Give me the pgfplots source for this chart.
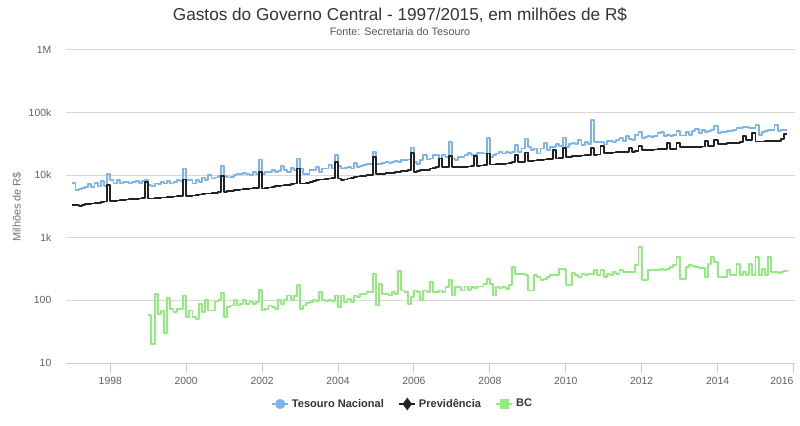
\documentclass[border=0pt]{standalone}
\usepackage{pgfplots}
\pgfplotsset{compat=1.18}
\usepackage{pgfplotstable}
\usepackage{fontspec}
\setmainfont{Liberation Sans}
\definecolor{tes}{HTML}{7CB5EC}
\definecolor{prev}{HTML}{222222}
\definecolor{bcc}{HTML}{90ED7D}
\definecolor{tickc}{HTML}{606060}
\definecolor{titlec}{HTML}{333333}
\definecolor{subc}{HTML}{555555}
\definecolor{ylabc}{HTML}{707070}
\definecolor{gridc}{HTML}{D8D8D8}
\definecolor{axisc}{HTML}{C0D0E0}

% Tesouro Nacional, monthly from Jan 1997 to Nov 2015
\pgfplotstableread[row sep=\\]{v\\
7500\\5800\\6100\\6300\\6500\\7200\\6500\\7600\\6600\\8000\\6800\\10400\\
8500\\7360\\8300\\7360\\7800\\7800\\7360\\7800\\8100\\7540\\8100\\8500\\
6920\\6670\\7360\\7180\\7800\\7360\\8100\\7360\\7800\\8500\\8100\\12800\\
8500\\8300\\7360\\8500\\7800\\9180\\8500\\10000\\8850\\9180\\9640\\13900\\
9640\\9180\\9400\\10000\\10600\\10400\\10900\\10600\\10000\\11300\\10600\\17800\\
10600\\11300\\11300\\12300\\11300\\11700\\13900\\12000\\11300\\13200\\12000\\18500\\
12800\\10600\\10600\\12000\\12000\\13600\\11300\\12800\\12800\\14500\\12800\\20900\\
13900\\12800\\13200\\13600\\12800\\15700\\13600\\13900\\14500\\15300\\14900\\23600\\
15300\\14900\\15700\\16300\\15700\\16300\\16900\\16300\\17400\\17400\\17800\\27700\\
16300\\15300\\17400\\20900\\17800\\18500\\20900\\20900\\18500\\20900\\19600\\34100\\
18500\\17400\\19600\\19600\\20900\\22700\\20900\\20900\\22700\\22700\\22200\\39500\\
19600\\20900\\22200\\23600\\22200\\23600\\22700\\23600\\30100\\23600\\26700\\38500\\
28400\\25600\\26700\\22200\\26700\\32900\\25100\\28400\\28400\\31300\\29100\\40000\\
28400\\32000\\32900\\32000\\36200\\30100\\34100\\32000\\75600\\34100\\34100\\34100\\
30900\\34900\\34900\\33600\\37000\\39400\\34900\\41900\\38000\\36000\\44500\\48500\\
39400\\40900\\41900\\40900\\41900\\47300\\48500\\41900\\44500\\41900\\44500\\50300\\
43000\\43000\\48500\\44500\\50300\\54800\\47300\\53300\\48500\\50300\\53300\\60500\\
47300\\48500\\48500\\50300\\50300\\52200\\57000\\57000\\59000\\59000\\57000\\57000\\
64300\\44500\\48500\\50300\\53300\\53300\\64300\\50300\\52200\\53300\\53300\\
}\tesouro

% Previdencia, monthly from Jan 1997 to Nov 2015
\pgfplotstableread[row sep=\\]{v\\
3310\\3310\\3200\\3310\\3440\\3440\\3530\\3620\\3620\\3750\\3800\\6920\\
3890\\3890\\3940\\3990\\4040\\4090\\4140\\4190\\4190\\4240\\4340\\7830\\
4240\\4240\\4290\\4340\\4400\\4400\\4510\\4510\\4560\\4620\\4680\\8530\\
4620\\4680\\4730\\4850\\4910\\4970\\5090\\5090\\5160\\5220\\5420\\9640\\
5420\\5550\\5620\\5760\\5760\\5900\\5980\\6050\\6120\\6200\\6300\\11300\\
6120\\6280\\6350\\6510\\6670\\6750\\6840\\6920\\7010\\7180\\7360\\12800\\
7360\\7360\\7540\\7830\\8120\\8320\\8520\\8520\\8740\\8850\\9070\\16300\\
8850\\8320\\8520\\8850\\9070\\9400\\9520\\9640\\9760\\10000\\10200\\19600\\
10400\\10600\\10600\\10800\\10900\\11000\\11200\\11300\\11600\\11700\\12000\\22700\\
11300\\11600\\12000\\12300\\12300\\12800\\13200\\13400\\18500\\13600\\13600\\20000\\
13400\\13400\\13500\\13600\\13600\\13800\\14000\\20500\\14200\\14300\\14500\\22200\\
14800\\14800\\15000\\15200\\15300\\15400\\15500\\16000\\21000\\16300\\16300\\23000\\
16800\\17000\\17200\\17400\\17500\\17800\\18000\\18200\\25000\\18500\\18600\\27000\\
19500\\19800\\20000\\20200\\20400\\20600\\20800\\21000\\27500\\21200\\21400\\29000\\
22500\\22700\\22800\\23000\\23200\\23300\\23500\\23600\\27500\\23800\\24000\\29500\\
25200\\25400\\25500\\25600\\25700\\25800\\26000\\26200\\32800\\26400\\26500\\33000\\
27800\\28000\\28100\\28200\\28300\\28400\\28500\\28700\\35000\\29000\\29200\\37000\\
31500\\31800\\32000\\32200\\32500\\32800\\33200\\33500\\42000\\36500\\36500\\47300\\
34500\\34500\\34600\\34700\\34800\\34900\\35000\\35200\\37500\\45600\\45600\\
}\previdencia

% BC, monthly from Jan 1999 to Nov 2015
\pgfplotstableread[row sep=\\]{v\\
58\\20\\125\\61\\69\\30\\110\\74\\65\\74\\74\\120\\
54\\69\\54\\51\\88\\65\\100\\69\\69\\96\\100\\131\\
54\\78\\83\\100\\83\\88\\102\\88\\94\\88\\94\\148\\
69\\74\\83\\78\\74\\100\\88\\100\\120\\100\\116\\174\\
74\\83\\91\\94\\100\\98\\136\\100\\98\\100\\98\\120\\
78\\120\\94\\106\\94\\120\\113\\128\\128\\136\\136\\266\\
83\\184\\128\\128\\120\\136\\128\\294\\144\\136\\88\\113\\
144\\136\\100\\144\\136\\196\\136\\136\\144\\136\\163\\214\\
120\\163\\163\\144\\167\\148\\163\\159\\167\\167\\185\\220\\
185\\120\\167\\159\\163\\153\\174\\341\\266\\266\\266\\251\\
144\\144\\251\\236\\209\\221\\236\\251\\251\\251\\320\\320\\
174\\174\\273\\251\\236\\266\\251\\266\\266\\302\\251\\302\\
236\\266\\251\\283\\266\\309\\283\\283\\283\\283\\362\\710\\
209\\209\\302\\309\\302\\302\\320\\309\\320\\341\\362\\492\\
221\\221\\341\\362\\349\\341\\333\\333\\236\\385\\492\\409\\
236\\236\\236\\302\\251\\251\\385\\251\\283\\251\\385\\251\\
492\\251\\320\\251\\492\\283\\283\\273\\283\\292\\309\\
}\bc

\begin{document}
\begin{tikzpicture}
\useasboundingbox (-49.5pt,-46.5pt) rectangle (550.5pt,272.25pt);
\begin{axis}[
  scale only axis,
  width=546.75pt, height=234.75pt,
  xmin=1996.833, xmax=2016.04,
  ymode=log, ymin=10, ymax=1000000,
  xtick={1998,2000,2002,2004,2006,2008,2010,2012,2014,2016},
  xticklabels={1998,2000,2002,2004,2006,2008,2010,2012,2014,\llap{2016}},
  ytick={10,100,1000,10000,100000,1000000},
  yticklabels={10,100,1k,10k,100k,1M},
  yminorticks=false,
  axis line style={draw=none},
  ymajorgrids,
  grid style={color=gridc, line width=0.75pt},
  xtick pos=bottom, ytick pos=left,
  tick align=outside,
  major tick length=7.5pt,
  xtick style={color=axisc, line width=0.75pt},
  ytick style={draw=none},
  tick label style={font=\fontsize{7.8}{9}\selectfont, color=tickc},
  xticklabel style={anchor=north},
  yticklabel style={anchor=east},
  /pgf/number format/assume math mode=true,
  legend columns=3,
  legend style={at={(0.4623,-0.131)}, anchor=center, draw=none, fill=none,
    font=\bfseries\fontsize{8.3}{10}\selectfont, text=titlec,
    /tikz/every even column/.append style={column sep=8.75pt}},
  legend image code/.code={\draw[mark repeat=2,mark phase=2,#1] plot coordinates {(0pt,0pt) (6pt,0pt) (12pt,0pt)};},
]
\addplot[const plot, color=tes, line width=1.4pt, line join=round, forget plot]
  table[x expr={1997+\coordindex/12}, y=v]{\tesouro};
\addplot[const plot, color=prev, line width=1.4pt, line join=round, forget plot]
  table[x expr={1997+\coordindex/12}, y=v]{\previdencia};
\addplot[const plot, color=bcc, line width=1.4pt, line join=round, forget plot]
  table[x expr={1999+\coordindex/12}, y=v]{\bc};
\draw[axisc, line width=0.75pt] (rel axis cs:0,0) -- (rel axis cs:1,0);
\addlegendimage{color=tes, line width=1.5pt, mark=*, mark size=3pt, mark options={solid, fill=tes}}
\addlegendentry{Tesouro Nacional}
\addlegendimage{color=prev, line width=1.5pt, mark=diamond*, mark size=3.5pt, mark options={solid, fill=prev}}
\addlegendentry{Previdência}
\addlegendimage{color=bcc, line width=1.5pt, mark=square*, mark size=2.8pt, mark options={solid, fill=bcc}}
\addlegendentry{BC}
\end{axis}
\node[anchor=base, font=\fontsize{12.9}{15}\selectfont, text=titlec] at (250.5pt,256.5pt) {Gastos do Governo Central - 1997/2015, em milhões de R\$};
\node[anchor=base, font=\fontsize{8.1}{10}\selectfont, text=subc] at (250.5pt,245.25pt) {Fonte: Secretaria do Tesouro};
\node[rotate=90, font=\fontsize{8.2}{10}\selectfont, text=ylabc] at (-36.75pt,117pt) {Milhões de R\$};
\end{tikzpicture}
\end{document}
